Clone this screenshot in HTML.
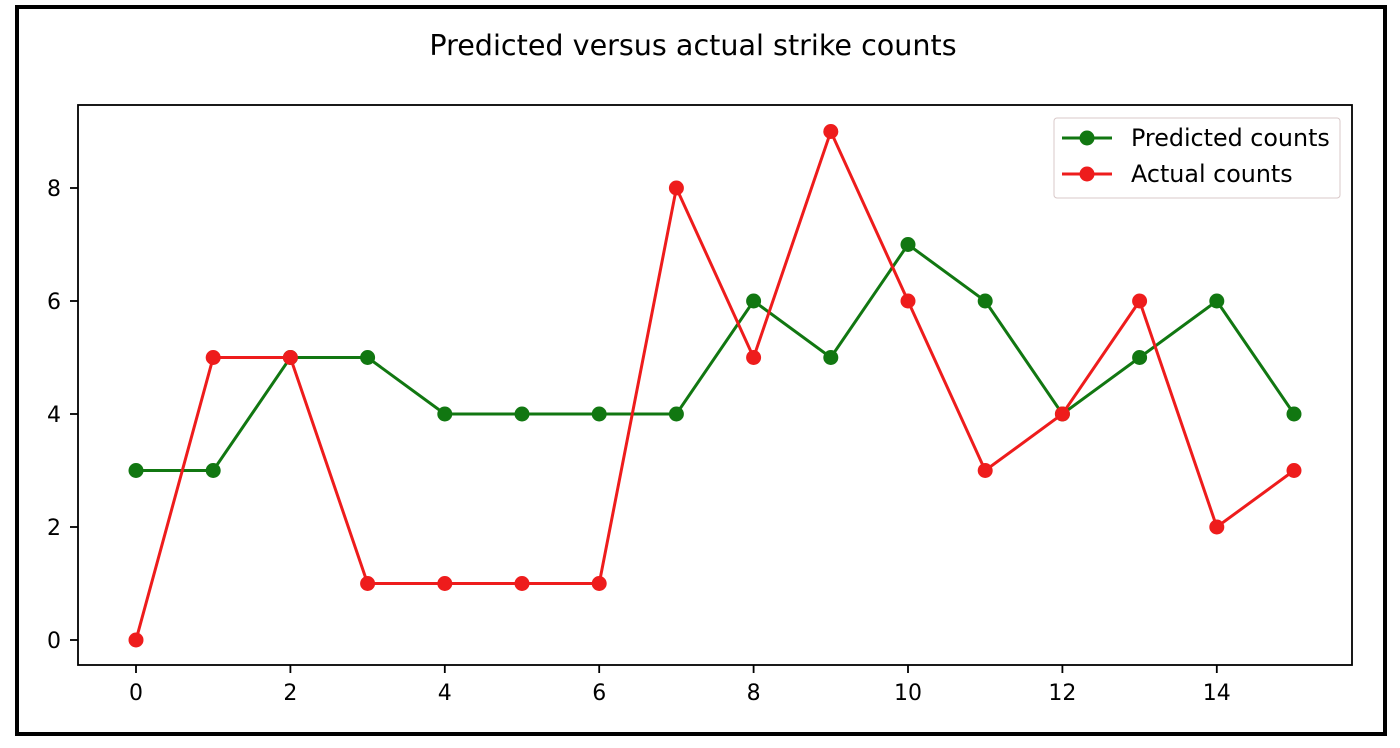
<!DOCTYPE html>
<html><head><meta charset="utf-8"><style>
html,body{margin:0;padding:0;background:#fff;}
svg{display:block;font-family:"DejaVu Sans","Liberation Sans",sans-serif;}
</style></head><body>
<svg id="chart" width="1400" height="748">
<rect x="17" y="7" width="1368" height="727" fill="#fff" stroke="#000" stroke-width="4"/>
<text x="693" y="55" text-anchor="middle" font-size="28.6" fill="#000">Predicted versus actual strike counts</text>
<g id="axes"></g>
<g id="series"></g>
<rect x="78" y="105" width="1274" height="560" fill="none" stroke="#000" stroke-width="1.8"/>
<g>
<rect x="1054" y="118" width="286" height="80" rx="3" fill="#fff" stroke="#d8c8c8" stroke-width="1"/>
<line x1="1062" y1="138" x2="1112" y2="138" stroke="#117711" stroke-width="3"/>
<circle cx="1087" cy="138" r="7.5" fill="#117711"/>
<text x="1131" y="146" font-size="23.8">Predicted counts</text>
<line x1="1062" y1="174" x2="1112" y2="174" stroke="#ee1c1c" stroke-width="3"/>
<circle cx="1087" cy="174" r="7.5" fill="#ee1c1c"/>
<text x="1131" y="182" font-size="23.8">Actual counts</text>
</g>
</svg>
<script>
const xCategories=[0,1,2,3,4,5,6,7,8,9,10,11,12,13,14,15];
const predicted=[3,3,5,5,4,4,4,4,6,5,7,6,4,5,6,4];
const actual=[0,5,5,1,1,1,1,8,5,9,6,3,4,6,2,3];
const xTicks=[0,2,4,6,8,10,12,14];
const yTicks=[0,2,4,6,8];
const NS="http://www.w3.org/2000/svg";
const xs=v=>136+(v-0)*(1294-136)/15;
const ys=v=>640-v*(640-188)/8;
const axes=document.getElementById('axes'),ser=document.getElementById('series');
function mk(t,a,p){const e=document.createElementNS(NS,t);for(const k in a)e.setAttribute(k,a[k]);p.appendChild(e);return e;}
xTicks.forEach(v=>{
  const l=mk('line',{x1:xs(v),x2:xs(v),y1:665,y2:673,stroke:'#000','stroke-width':1.8},axes);
  
  
  const t=mk('text',{x:xs(v),y:700,'text-anchor':'middle','font-size':22},axes);t.textContent=v;
  
  
});
yTicks.forEach(v=>{
  const l=mk('line',{x1:70,x2:78,y1:ys(v),y2:ys(v),stroke:'#000','stroke-width':1.8},axes);
  
  
  const t=mk('text',{x:61,y:ys(v)+8,'text-anchor':'end','font-size':22},axes);t.textContent=v;
  
  
});
function draw(vals,color,name){
  const pl=mk('polyline',{points:vals.map((v,i)=>xs(xCategories[i])+','+ys(v)).join(' '),fill:'none',stroke:color,'stroke-width':3},ser);
  
  
  vals.forEach((v,i)=>{
    const c=mk('circle',{cx:xs(xCategories[i]),cy:ys(v),r:7.5,fill:color},ser);
    
    
  });
}
draw(predicted,'#117711','predicted');
draw(actual,'#ee1c1c','actual');
</script>
</body></html>
